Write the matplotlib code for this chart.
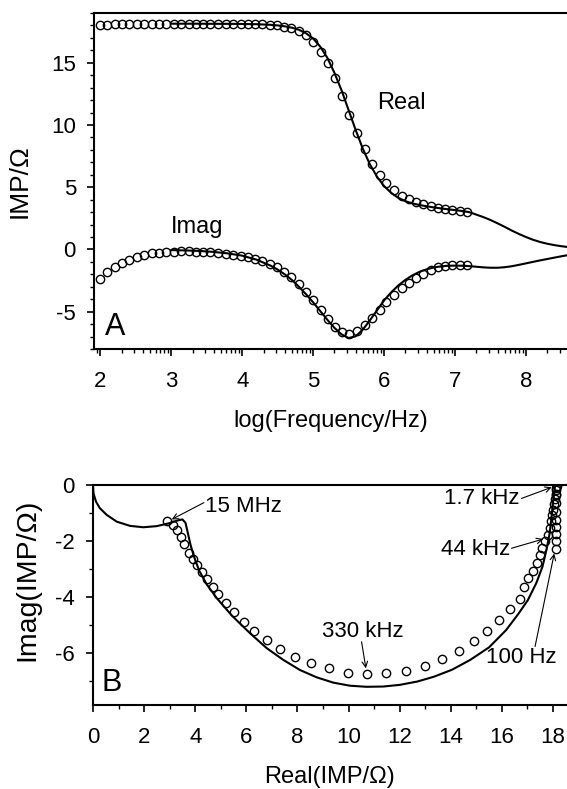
import numpy as np
import matplotlib
matplotlib.use("Agg")
import matplotlib.pyplot as plt
from matplotlib.ticker import MultipleLocator, FixedLocator

plt.rcParams['font.family'] = ['Liberation Sans', 'DejaVu Sans']

# ---- Panel A: measured points (log f, real, imag) ----
logf_data = [2.00, 2.10, 2.20, 2.31, 2.41, 2.52, 2.62, 2.73, 2.83, 2.93,
             3.04, 3.14, 3.25, 3.35, 3.45, 3.55, 3.66, 3.77, 3.87, 3.98,
             4.08, 4.18, 4.28, 4.39, 4.49, 4.59, 4.69, 4.80, 4.90, 5.00,
             5.11, 5.21, 5.31, 5.41, 5.51, 5.62, 5.73, 5.83, 5.94, 6.03,
             6.14, 6.25, 6.35, 6.45, 6.55, 6.66, 6.76, 6.86, 6.96, 7.07, 7.17]
real_data = [18.05, 18.07, 18.08, 18.09, 18.10, 18.10, 18.11, 18.12, 18.12, 18.13,
             18.13, 18.13, 18.13, 18.13, 18.13, 18.13, 18.13, 18.13, 18.13, 18.12,
             18.12, 18.11, 18.10, 18.06, 18.00, 17.91, 17.78, 17.59, 17.24, 16.70,
             15.90, 14.96, 13.76, 12.36, 10.80, 9.33, 8.04, 6.86, 5.98, 5.31,
             4.77, 4.31, 4.02, 3.83, 3.64, 3.48, 3.35, 3.24, 3.16, 3.08, 3.03]
imag_data = [-2.37, -1.84, -1.44, -1.09, -0.83, -0.59, -0.43, -0.32, -0.27, -0.21,
             -0.19, -0.16, -0.16, -0.19, -0.21, -0.24, -0.29, -0.35, -0.43, -0.51,
             -0.61, -0.75, -0.93, -1.15, -1.44, -1.81, -2.24, -2.75, -3.40, -4.10,
             -4.85, -5.60, -6.27, -6.67, -6.77, -6.53, -6.05, -5.52, -4.85, -4.21,
             -3.65, -3.07, -2.67, -2.32, -1.97, -1.65, -1.44, -1.33, -1.25, -1.23, -1.28]

# ---- Panel A: fitted curve ----
logf_fit = [3.0, 3.2, 3.4, 3.6, 3.8, 4.0, 4.2, 4.4, 4.5, 4.6, 4.7, 4.8, 4.9,
            5.0, 5.1, 5.2, 5.3, 5.4, 5.5, 5.6, 5.7, 5.8, 5.9, 6.0, 6.1, 6.2,
            6.3, 6.4, 6.5, 6.6, 6.7, 6.8, 6.9, 7.0, 7.1, 7.2, 7.3, 7.4, 7.5,
            7.6, 7.7, 7.8, 7.9, 8.0, 8.1, 8.2, 8.3, 8.4, 8.5, 8.6, 8.7]
real_fit = [18.14, 18.14, 18.14, 18.13, 18.13, 18.12, 18.10, 18.05, 18.00, 17.93,
            17.82, 17.65, 17.37, 16.95, 16.30, 15.40, 14.20, 12.80, 11.20, 9.60,
            8.10, 6.85, 5.85, 5.10, 4.55, 4.15, 3.88, 3.70, 3.57, 3.47,
            3.38, 3.30, 3.23, 3.16, 3.09, 3.00, 2.80, 2.60, 2.37, 2.10,
            1.82, 1.52, 1.25, 1.00, 0.78, 0.60, 0.46, 0.35, 0.26, 0.19, 0.14]
imag_fit = [-0.05, -0.08, -0.12, -0.20, -0.32, -0.50, -0.82, -1.30, -1.62, -2.00,
            -2.45, -3.00, -3.60, -4.25, -4.95, -5.65, -6.30, -6.82, -7.12, -6.98,
            -6.45, -5.70, -4.90, -4.10, -3.45, -2.90, -2.45, -2.08, -1.80, -1.60,
            -1.45, -1.36, -1.31, -1.30, -1.31, -1.34, -1.39, -1.44, -1.47, -1.47,
            -1.43, -1.35, -1.24, -1.12, -1.00, -0.88, -0.77, -0.66, -0.55, -0.45, -0.36]

# ---- Panel B: complex-plane points ----
nyq_re = [2.91, 3.12, 3.29, 3.44, 3.58, 3.76, 3.90, 4.07, 4.26, 4.46,
          4.68, 4.89, 5.20, 5.53, 5.91, 6.31, 6.79, 7.30, 7.89, 8.53,
          9.24, 9.97, 10.72, 11.47, 12.24, 12.99, 13.65, 14.33, 14.90, 15.42,
          15.89, 16.31, 16.70, 16.86, 17.03, 17.20, 17.36, 17.49, 17.59, 17.68,
          17.80, 17.88, 17.92, 17.97, 18.01, 18.05, 18.08, 18.10, 18.13, 18.14,
          18.13, 18.12, 18.11, 18.11, 18.11, 18.11, 18.11, 18.11, 18.12]
nyq_im = [-1.29, -1.43, -1.61, -1.85, -2.11, -2.44, -2.65, -2.86, -3.10, -3.37,
          -3.63, -3.90, -4.23, -4.55, -4.88, -5.20, -5.54, -5.85, -6.13, -6.37,
          -6.55, -6.70, -6.75, -6.73, -6.63, -6.45, -6.21, -5.92, -5.57, -5.20,
          -4.82, -4.44, -4.08, -3.66, -3.33, -3.06, -2.79, -2.51, -2.25, -2.01,
          -1.77, -1.54, -1.30, -1.08, -0.88, -0.68, -0.49, -0.32, -0.17, -0.05,
          -0.12, -0.36, -0.65, -0.95, -1.25, -1.49, -1.75, -2.00, -2.29]

# ---- Panel B: fitted curve ----
nyq_fit_re = [0.00, 0.02, 0.12, 0.27, 0.54, 0.93, 1.45, 1.97, 2.49, 3.01,
              3.34, 3.50, 3.62, 3.72, 3.82, 3.95, 4.15, 4.45, 4.85, 5.45,
              6.15, 6.80, 7.45, 8.10, 8.75, 9.40, 10.05, 10.71, 11.36, 12.01,
              12.70, 13.34, 14.05, 14.76, 15.50, 16.17, 16.65, 17.02, 17.35, 17.59,
              17.75, 17.87, 17.95, 18.01, 18.08]
nyq_fit_im = [0.00, -0.30, -0.60, -0.83, -1.07, -1.31, -1.46, -1.51, -1.47, -1.36,
              -1.26, -1.23, -1.35, -1.75, -2.15, -2.55, -3.05, -3.55, -4.05, -4.68,
              -5.30, -5.83, -6.25, -6.61, -6.87, -7.06, -7.17, -7.21, -7.20, -7.14,
              -7.02, -6.85, -6.60, -6.25, -5.80, -5.18, -4.60, -4.11, -3.50, -2.92,
              -2.30, -1.73, -1.10, -0.54, -0.06]

# annotations for panel B: label, text position, arrow tail, arrow head, alignment
freq_labels = ['15 MHz', '1.7 kHz', '44 kHz', '100 Hz', '330 kHz']
label_xy = [(4.38, -0.78), (16.70, -0.48), (16.31, -2.29), (16.76, -6.17), (10.54, -5.24)]
tail_xy = [(4.34, -0.63), (16.77, -0.48), (16.38, -2.26), (17.30, -5.77), (10.51, -5.60)]
head_xy = [(3.08, -1.23), (17.95, -0.08), (17.62, -1.93), (18.05, -2.45), (10.68, -6.55)]
label_ha = ['left', 'right', 'right', 'center', 'center']

FS = 16
mk = dict(marker='o', ms=6.0, mfc='none', mec='black', mew=1.0, ls='none')

fig = plt.figure(figsize=(5.67, 7.89), dpi=100)
axA = fig.add_axes([94 / 567, 1 - 349 / 789, 473 / 567, 336 / 789])
axB = fig.add_axes([93 / 567, 1 - 705 / 789, 474 / 567, 220 / 789])

for ax in (axA, axB):
    ax.spines['right'].set_visible(False)
    for s in ('left', 'top', 'bottom'):
        ax.spines[s].set_linewidth(1.5)
    ax.tick_params(which='major', direction='out', length=5, width=1.2, labelsize=FS)
    ax.tick_params(which='minor', direction='out', length=3, width=1.0)
    ax.tick_params(axis='x', which='major', pad=11)
    ax.tick_params(axis='y', which='major', pad=8)

# panel A
axA.plot(logf_fit, real_fit, color='black', lw=1.5)
axA.plot(logf_fit, imag_fit, color='black', lw=1.5)
axA.plot(logf_data, real_data, **mk)
axA.plot(logf_data, imag_data, **mk)
axA.set_xlim(1.91, 8.58)
axA.set_ylim(-8, 19)
axA.set_xticks(range(2, 9))
minor_x = [d + np.log10(k) for d in range(1, 9) for k in range(2, 10)]
axA.xaxis.set_minor_locator(FixedLocator(minor_x))
axA.set_yticks([-5, 0, 5, 10, 15])
axA.set_yticklabels(['-5', '0', '5', '10', '15'])
axA.yaxis.set_minor_locator(MultipleLocator(1))
axA.set_xlabel('log(Frequency/Hz)', fontsize=FS + 1)
axA.set_ylabel('IMP/Ω', fontsize=19)
axA.xaxis.set_label_coords(0.5, -0.182)
axA.xaxis.label.set_va('top')
axA.yaxis.set_label_coords(-0.131, 0.5)
axA.text(6.24, 11.75, 'Real', fontsize=FS + 1, ha='center', va='center')
axA.text(3.37, 1.82, 'Imag', fontsize=FS + 1, ha='center', va='center')
axA.text(2.21, -6.23, 'A', fontsize=22, ha='center', va='center')

# panel B
axB.plot(nyq_fit_re, nyq_fit_im, color='black', lw=1.5)
axB.plot(nyq_re, nyq_im, **mk)
axB.set_xlim(0, 18.55)
axB.set_ylim(-7.86, 0)
axB.set_xticks(range(0, 19, 2))
axB.xaxis.set_minor_locator(MultipleLocator(1))
axB.set_yticks([-6, -4, -2, 0])
axB.set_yticklabels(['-6', '-4', '-2', '0'])
axB.yaxis.set_minor_locator(MultipleLocator(1))
axB.set_xlabel('Real(IMP/Ω)', fontsize=FS + 1)
axB.set_ylabel('Imag(IMP/Ω)', fontsize=20.5)
axB.xaxis.set_label_coords(0.5, -0.276)
axB.xaxis.label.set_va('top')
axB.yaxis.set_label_coords(-0.112, 0.57)
axB.text(0.74, -7.08, 'B', fontsize=22, ha='center', va='center')

for lab, txy, tail, head, ha in zip(freq_labels, label_xy, tail_xy, head_xy, label_ha):
    axB.text(txy[0], txy[1], lab, fontsize=FS, ha=ha, va='center')
    axB.annotate('', xy=head, xytext=tail,
                 arrowprops=dict(arrowstyle='->', lw=0.8, color='black',
                                 shrinkA=0, shrinkB=0, mutation_scale=10))

fig.savefig('out.png', dpi=100)
